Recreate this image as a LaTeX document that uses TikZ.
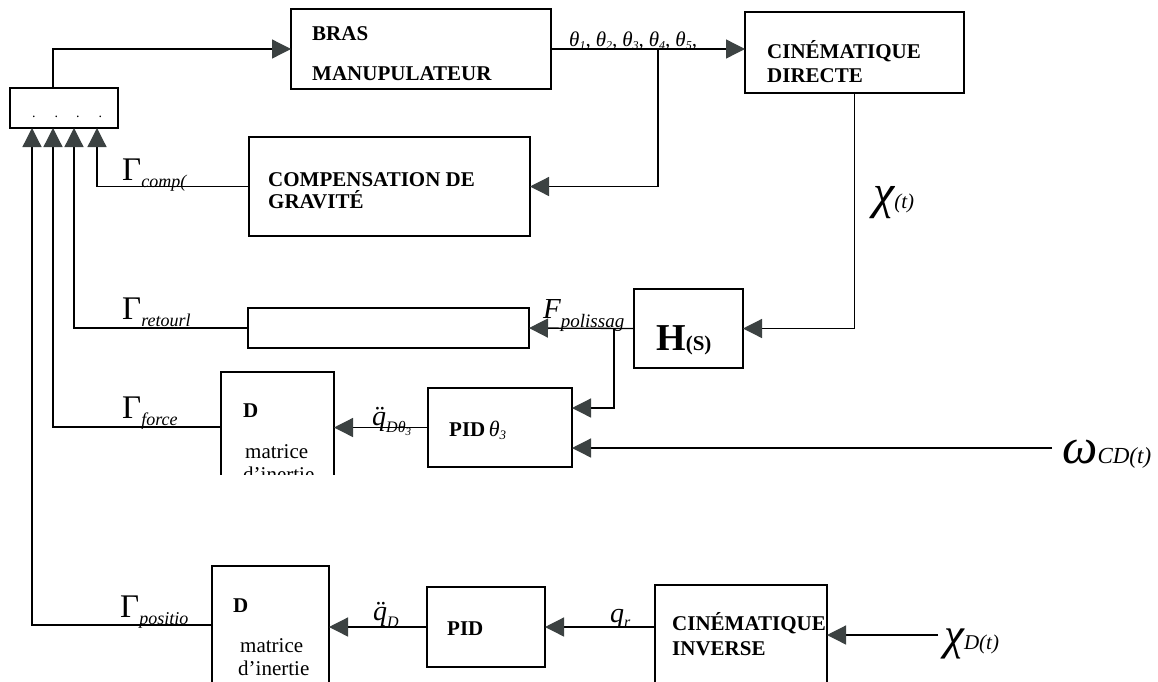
\documentclass[tikz,border=0pt]{standalone}
\usepackage{fontspec}
\setmainfont{Liberation Serif}
\usetikzlibrary{arrows.meta}
\definecolor{arrowc}{RGB}{60,66,66}
\newcommand{\fs}[1]{\fontsize{#1}{#1}\selectfont}
\begin{document}
\begin{tikzpicture}[x=1pt,y=-1pt,
  box/.style={draw,line width=1.3pt,outer sep=0pt,inner sep=0pt,anchor=north west},
  conn/.style={line width=1.3pt},
  arr/.style={conn,-{Triangle[length=19pt,width=19pt,color=arrowc]}},
  lbl/.style={inner sep=0pt,anchor=base west},
  btxt/.style={lbl,font=\fs{21}\bfseries},
  rtxt/.style={lbl,font=\fs{21}},
]
\useasboundingbox[fill=white] (0,0) rectangle (1158,681);
\clip (0,0) rectangle (1158,681);

% ---- boxes ----
\node[box,minimum width=108,minimum height=40] (sum) at (10,88) {};
\node[lbl,font=\fs{14}] (dots) at (32,117) {.\hspace{19pt}.\hspace{18pt}.\hspace{19pt}.};

\node[box,minimum width=260,minimum height=80] (bras) at (291,9) {};
\node[btxt] (brasA) at (312,40) {BRAS};
\node[btxt] (brasB) at (312,80) {MANUPULATEUR};

\node[box,minimum width=219,minimum height=81] (cd) at (745,12) {};
\node[btxt] (cdA) at (767,58) {CINÉMATIQUE};
\node[btxt] (cdB) at (767,82) {DIRECTE};

\node[box,minimum width=281,minimum height=99] (comp) at (249,137) {};
\node[btxt] (compA) at (268,186) {COMPENSATION DE};
\node[btxt] (compB) at (268,208) {GRAVITÉ};

\node[box,minimum width=281,minimum height=40] (blank) at (248,308) {};

\node[box,minimum width=109,minimum height=79] (hs) at (634,289) {};
\node[lbl] (hsT) at (656,350) {\fs{38}\bfseries H\fs{21}(S)};

\node[box,minimum width=144,minimum height=79] (pidt) at (428,388) {};
\node[lbl] (pidtT) at (449,436) {\fs{21}\bfseries PID\,\fs{22}\mdseries\itshape θ\raisebox{-3pt}{\fs{13}3}};

\begin{scope}
  \clip (200,360) rectangle (345,474);
  \node[box,minimum width=113,minimum height=110] (d1) at (221,372) {};
  \node[btxt] (d1A) at (243,417) {D};
  \node[rtxt] (d1B) at (245,458) {matrice};
  \node[rtxt] (d1C) at (243,481) {d’inertie};
\end{scope}

\node[box,minimum width=117,minimum height=118] (d2) at (212,566) {};
\node[btxt] (d2A) at (233,612) {D};
\node[rtxt] (d2B) at (240,652) {matrice};
\node[rtxt] (d2C) at (238,675) {d’inertie};

\node[box,minimum width=118,minimum height=80] (pid) at (427,587) {};
\node[btxt] (pidT) at (447,635) {PID};

\node[box,minimum width=172,minimum height=110] (ci) at (655,585) {};
\node[btxt] (ciA) at (672,630) {CINÉMATIQUE};
\node[btxt] (ciB) at (672,655) {INVERSE};

% ---- labels ----
\node[lbl] (thl) at (569,46) {\fs{21}\itshape θ\raisebox{-3pt}{\fs{12}1},\hspace{5pt}θ\raisebox{-3pt}{\fs{12}2},\hspace{5pt}θ\raisebox{-3pt}{\fs{12}3},\hspace{5pt}θ\raisebox{-3pt}{\fs{12}4},\hspace{5pt}θ\raisebox{-3pt}{\fs{12}5},};
\node[lbl] (gcomp) at (122,180) {\fs{33}Γ\raisebox{-7pt}{\fs{18}\itshape comp(}};
\node[lbl] (gret) at (122,319) {\fs{33}Γ\raisebox{-7pt}{\fs{18}\itshape retourl}};
\node[lbl] (gforce) at (122,418) {\fs{33}Γ\raisebox{-7pt}{\fs{18}\itshape force}};
\node[lbl] (gpos) at (120,617) {\fs{33}Γ\raisebox{-7pt}{\fs{18}\itshape positio}};
\node[lbl] (fpol) at (543,318) {\fs{29}\itshape F\raisebox{-9pt}{\fs{19}\itshape polissag}};
\node[lbl] (qdt) at (372,425) {\fs{28}\itshape \"q\raisebox{-7pt}{\fs{16}\itshape Dθ\raisebox{-3pt}{\fs{11}3}}};
\node[lbl] (qd) at (373,620) {\fs{28}\itshape \"q\raisebox{-7pt}{\fs{16}\itshape D}};
\node[lbl] (qr) at (610,622) {\fs{28}\itshape q\raisebox{-5pt}{\fs{16}\itshape r}};
\node[lbl] (chi) at (873,208) {\fs{48}\itshape χ\fs{21}(t)};
\node[lbl] (omega) at (1062,463) {\fs{50}\itshape ω\fs{23}CD(t)};
\node[lbl] (chid) at (944,649) {\fs{45}\itshape χ\fs{21}D(t)};

% ---- coordinates ----
\coordinate (out0) at (53,88);
\coordinate (in1) at (97,128);
\coordinate (in2) at (74,128);
\coordinate (in3) at (53,128);
\coordinate (in4) at (32,128);
\coordinate (br1) at (658,49);
\coordinate (br2) at (614,328.5);
\coordinate (p1) at (614,408);
\coordinate (win) at (1052,448);
\coordinate (xdin) at (938,635);

% ---- connectors ----
\draw[arr] (out0) |- (bras.west);
\draw[arr] (bras.east) -- (bras.east -| cd.west);
\draw[arr] (br1) |- (comp.east);
\draw[arr] (comp.west) -| (in1);
\draw[arr] (cd.south) |- (hs.east);
\draw[arr] (hs.west) -- (blank.east);
\draw[arr] (br2) -- (p1) -- (p1 -| pidt.east);
\draw[arr] (blank.west) -| (in2);
\draw[arr] (win) -- (win -| pidt.east);
\draw[arr] (pidt.west) -- (pidt.west -| d1.east);
\draw[arr] (d1.west) -| (in3);
\draw[arr] (d2.west) -| (in4);
\draw[arr] (pid.west) -- (pid.west -| d2.east);
\draw[arr] (ci.west |- pid.west) -- (pid.east);
\draw[arr] (xdin) -- (xdin -| ci.east);
\end{tikzpicture}
\end{document}
